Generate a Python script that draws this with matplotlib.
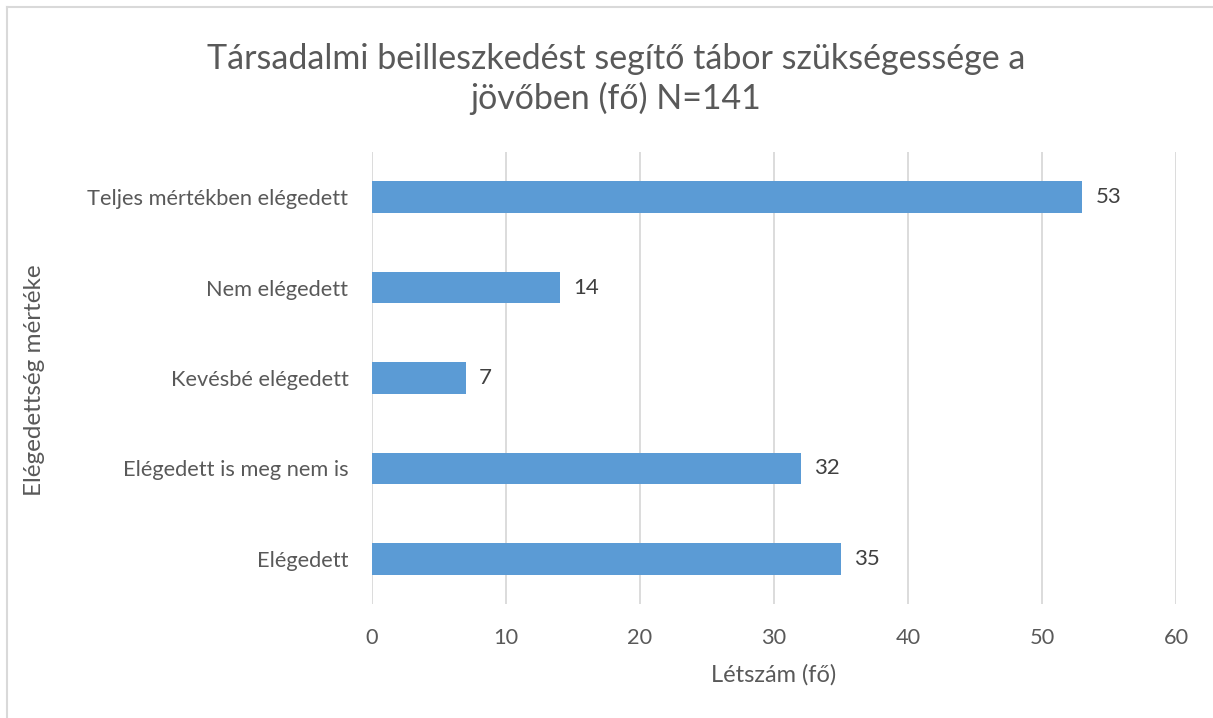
import matplotlib
matplotlib.use("Agg")
import matplotlib.pyplot as plt
from matplotlib.lines import Line2D

categories = ["Elégedett", "Elégedett is meg nem is", "Kevésbé elégedett",
              "Nem elégedett", "Teljes mértékben elégedett"]
values = [35, 32, 7, 14, 53]
xticks = [0, 10, 20, 30, 40, 50, 60]

title = "Társadalmi beilleszkedést segítő tábor szükségessége a\njövőben (fő) N=141"
xlabel = "Létszám (fő)"
ylabel = "Elégedettség mértéke"

plt.rcParams['font.family'] = ['Lato', 'DejaVu Sans']
txt = "#595959"

fig = plt.figure(figsize=(12.13, 7.18), dpi=100)
ax = fig.add_axes([372/1213, 1-604/718, (1176-372)/1213, (604-152)/718])

y = range(len(categories))
bars = ax.barh(y, values, height=0.35, color="#5B9BD5", zorder=3)
ax.set_xlim(0, 60)
ax.set_ylim(-0.5, len(categories)-0.5)
ax.set_xticks(xticks)
ax.set_yticks(list(y))
ax.set_yticklabels(categories)
ax.grid(axis="x", color="#d9d9d9", linewidth=1.3, zorder=0)
for s in ax.spines.values():
    s.set_visible(False)
ax.tick_params(axis="both", length=0, labelsize=15.7, labelcolor=txt)
ax.tick_params(axis="x", pad=17)
ax.tick_params(axis="y", pad=17)

for b, v in zip(bars, values):
    ax.text(v + 1.0, b.get_y() + b.get_height()/2, str(v), va="center", ha="left",
            fontsize=16, color="#404040")

ax.set_xlabel(xlabel, fontsize=17, color=txt, labelpad=12)
fig.text(35/1213, 1-380/718, ylabel, rotation=90, ha="center", va="center",
         fontsize=17.5, color=txt)
fig.text(616/1213, 1-79/718, title, ha="center", va="center", fontsize=24.5,
         color=txt, linespacing=1.25)

fig.add_artist(Line2D([7/1213, 1], [1-7/718, 1-7/718], color="#d9d9d9", lw=1.5,
                      transform=fig.transFigure))
fig.add_artist(Line2D([7/1213, 7/1213], [0, 1-7/718], color="#d9d9d9", lw=1.5,
                      transform=fig.transFigure))

fig.savefig("out.png", dpi=100, facecolor="white")
